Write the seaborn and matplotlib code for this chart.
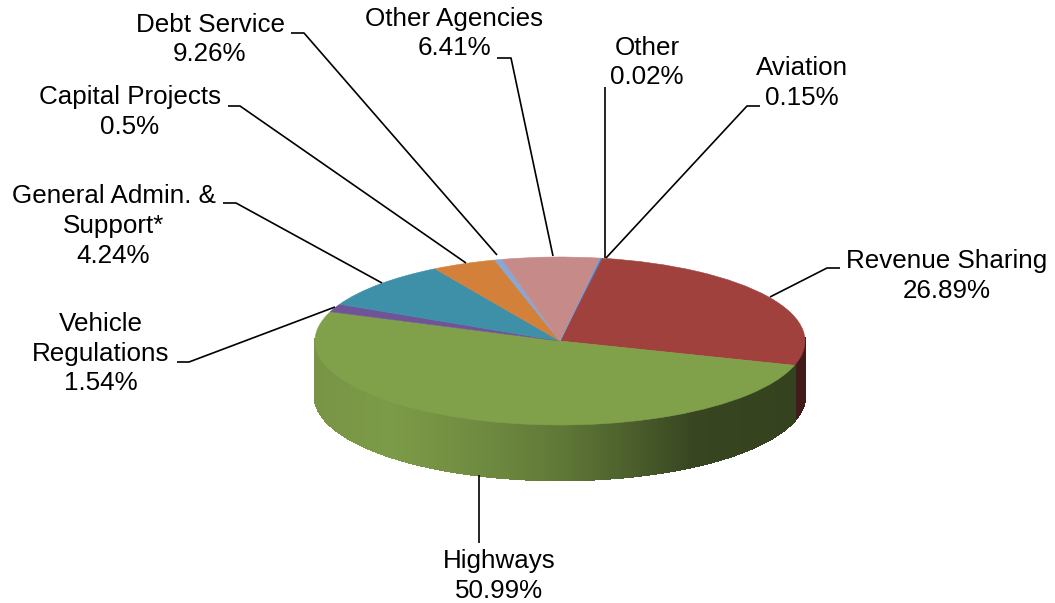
import numpy as np
import matplotlib
matplotlib.use("Agg")
import matplotlib.pyplot as plt
from matplotlib.collections import PolyCollection
from matplotlib.colors import to_rgb
import seaborn as sns

# ---------------- data (pie order, clockwise) ----------------
categories = ["Aviation", "Revenue Sharing", "Highways", "Vehicle Regulations",
              "Debt Service", "General Admin. & Support*", "Capital Projects",
              "Other Agencies", "Other"]
values = [0.15, 26.89, 50.99, 1.54, 9.26, 4.24, 0.5, 6.41, 0.02]
colors = ["#4F7FBE", "#A0413E", "#80A04A", "#6F5597", "#3E8FA8",
          "#D3803A", "#8AA6D3", "#C68A88", "#7F9FCF"]

# label texts as printed on the chart
label_texts = {
    "Debt Service": "Debt Service\n9.26%",
    "Capital Projects": "Capital Projects\n0.5%",
    "Other Agencies": "Other Agencies\n6.41%",
    "Other": "Other\n0.02%",
    "Aviation": "Aviation\n0.15%",
    "General Admin. & Support*": "General Admin. &\nSupport*\n4.24%",
    "Vehicle Regulations": "Vehicle\nRegulations\n1.54%",
    "Revenue Sharing": "Revenue Sharing\n26.89%",
    "Highways": "Highways\n50.99%",
}

sns.set_theme(style="white")
plt.rcParams['font.family'] = ['Liberation Sans', 'DejaVu Sans']

W, H = 1055, 603
fig = plt.figure(figsize=(W / 100, H / 100), dpi=100)
fig.patch.set_facecolor("white")

# ---------------- pie geometry (pixels) ----------------
cx, cy = 560, 341      # centre of top face (pixel, from top)
a_px, b_px = 245, 84   # semi-axes of top face
depth = 55 / b_px      # thickness in data units
start = 9.5            # degrees clockwise from 12 o'clock

ax = fig.add_axes([0, 0, 1, 1])
ax.set_facecolor("none")

# side walls (front half only), shaded left->right
theta_edges = start + np.concatenate([[0], np.cumsum(values)]) / sum(values) * 360.0
polys, pcols = [], []
shade_x = [-1.0, -0.7, -0.3, 0.0, 0.3, 0.55, 1.0]
shade_f = [0.93, 0.97, 0.86, 0.75, 0.58, 0.43, 0.41]
for i, col in enumerate(colors):
    t0, t1 = theta_edges[i], theta_edges[i + 1]
    n = max(2, int(np.ceil((t1 - t0) / 0.5)))
    ts = np.linspace(t0, t1, n + 1)
    base = np.array(to_rgb(col))
    for s0, s1 in zip(ts[:-1], ts[1:]):
        r0, r1 = np.radians(s0), np.radians(s1)
        if np.cos(r0) > 0.02 and np.cos(r1) > 0.02:
            continue
        x0, y0 = np.sin(r0), np.cos(r0)
        x1, y1 = np.sin(r1), np.cos(r1)
        polys.append([(x0, y0), (x1, y1), (x1, y1 - depth), (x0, y0 - depth)])
        f = np.interp(0.5 * (x0 + x1), shade_x, shade_f)
        pcols.append(tuple(np.clip(base * f, 0, 1)))
side = PolyCollection(polys, facecolors=pcols, edgecolors=pcols, linewidths=1.2,
                      antialiaseds=False, zorder=1)
ax.add_collection(side)

# top face
wedges, _ = ax.pie(values, colors=colors, startangle=90 - start, counterclock=False,
                   radius=1.0, center=(0, 0), wedgeprops=dict(linewidth=0.4))
for w, c in zip(wedges, colors):
    w.set_zorder(2)
    w.set_edgecolor(c)

ax.set_aspect("auto")
ax.set_xlim((0 - cx) / a_px, (W - cx) / a_px)
ax.set_ylim((cy - H) / b_px, cy / b_px)
ax.axis("off")

# ---------------- labels and leader lines (pixel overlay) ----------------
axt = fig.add_axes([0, 0, 1, 1])
axt.set_xlim(0, W)
axt.set_ylim(H, 0)
axt.axis("off")
axt.patch.set_visible(False)

label_pos = {
    "Debt Service": (210, 39.5),
    "Capital Projects": (130, 112),
    "Other Agencies": (454, 33.5),
    "Other": (647, 62.5),
    "Aviation": (802, 83),
    "General Admin. & Support*": (113.5, 226),
    "Vehicle Regulations": (101, 353.5),
    "Revenue Sharing": (946.5, 276),
    "Highways": (499, 576),
}
leaders = {
    "Debt Service": [(291, 33), (304, 33), (497, 255)],
    "Capital Projects": [(228, 106), (240, 106), (466, 263)],
    "Other Agencies": [(497, 58), (511, 58), (553, 256)],
    "Other": [(605, 87), (605, 258)],
    "Aviation": [(760, 106), (747, 106), (606, 258)],
    "General Admin. & Support*": [(223, 203), (236, 203), (382, 283)],
    "Vehicle Regulations": [(177, 362), (189, 362), (335, 307)],
    "Revenue Sharing": [(840, 268), (827, 268), (770, 297)],
    "Highways": [(479, 475), (479, 543)],
}

for cat in categories:
    x, y = label_pos[cat]
    axt.text(x, y, label_texts[cat], ha="center", va="center",
             fontsize=18.7, color="black", linespacing=1.31)
    pts = np.array(leaders[cat])
    axt.plot(pts[:, 0], pts[:, 1], color="black", lw=1.2, solid_capstyle="butt")

fig.savefig("out.png", dpi=100)
